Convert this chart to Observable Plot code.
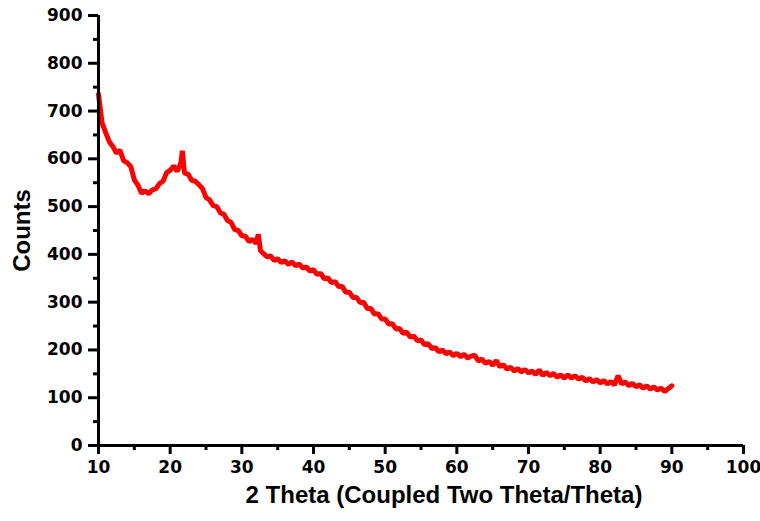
<!DOCTYPE html>
<html>
<head>
<meta charset="utf-8">
<script src="https://cdn.jsdelivr.net/npm/d3@7"></script>
<script src="https://cdn.jsdelivr.net/npm/@observablehq/plot@0.6"></script>
<style>
  html, body { margin: 0; padding: 0; background: #fff; }
  #chart svg { display: block; }
</style>
</head>
<body>
<div id="chart"></div>
<script>
// 2 Theta (degrees)
const theta = [
  10.0, 10.5, 11.0, 11.5, 12.0, 12.5, 13.0, 13.5, 14.0, 14.5,
  15.0, 15.5, 16.0, 16.5, 17.0, 17.5, 18.0, 18.5, 19.0, 19.5,
  20.0, 20.5, 21.0, 21.5, 21.7, 22.0, 22.5, 23.0, 23.5, 24.0,
  24.5, 25.0, 25.5, 26.0, 26.5, 27.0, 27.5, 28.0, 28.5, 29.0,
  29.5, 30.0, 30.5, 31.0, 31.5, 32.0, 32.3, 32.6, 33.0, 33.5,
  34.0, 34.5, 35.0, 35.5, 36.0, 36.5, 37.0, 37.5, 38.0, 38.5,
  39.0, 39.5, 40.0, 40.5, 41.0, 41.5, 42.0, 42.5, 43.0, 43.5,
  44.0, 44.5, 45.0, 45.5, 46.0, 46.5, 47.0, 47.5, 48.0, 48.5,
  49.0, 49.5, 50.0, 50.5, 51.0, 51.5, 52.0, 52.5, 53.0, 53.5,
  54.0, 54.5, 55.0, 55.5, 56.0, 56.5, 57.0, 57.5, 58.0, 58.5,
  59.0, 59.5, 60.0, 60.5, 61.0, 61.5, 62.0, 62.5, 63.0, 63.5,
  64.0, 64.5, 65.0, 65.5, 66.0, 66.5, 67.0, 67.5, 68.0, 68.5,
  69.0, 69.5, 70.0, 70.5, 71.0, 71.5, 72.0, 72.5, 73.0, 73.5,
  74.0, 74.5, 75.0, 75.5, 76.0, 76.5, 77.0, 77.5, 78.0, 78.5,
  79.0, 79.5, 80.0, 80.5, 81.0, 81.5, 82.0, 82.5, 83.0, 83.5,
  84.0, 84.5, 85.0, 85.5, 86.0, 86.5, 87.0, 87.5, 88.0, 88.5,
  89.0, 89.5, 90.0
];
// Counts
const counts = [
  735, 675, 655, 636, 626, 612, 618, 596, 592, 584,
  556, 545, 528, 533, 527, 535, 537, 548, 553, 571,
  576, 585, 574, 592, 617, 570, 568, 555, 553, 546,
  538, 519, 514, 502, 500, 487, 484, 471, 467, 452,
  450, 439, 438, 427, 431, 423, 442, 408, 402, 395,
  397, 387, 391, 383, 387, 379, 384, 376, 380, 371,
  374, 365, 368, 358, 360, 349, 351, 341, 343, 333,
  333, 321, 321, 310, 310, 299, 300, 287, 287, 275,
  276, 265, 265, 254, 255, 244, 245, 235, 237, 227,
  229, 219, 221, 211, 213, 203, 205, 196, 200, 192,
  196, 188, 193, 186, 191, 183, 187, 189, 177, 181,
  172, 176, 168, 178, 165, 169, 160, 164, 156, 161,
  154, 159, 152, 156, 149, 158, 147, 153, 146, 151,
  143, 148, 141, 148, 141, 146, 139, 143, 135, 140,
  133, 138, 131, 136, 129, 134, 127, 146, 129, 133,
  125, 130, 123, 127, 120, 125, 118, 123, 116, 120,
  113, 119, 125
];
const xMajor = [10, 20, 30, 40, 50, 60, 70, 80, 90, 100];
const xMinor = [15, 25, 35, 45, 55, 65, 75, 85, 95];
const yMajor = [0, 100, 200, 300, 400, 500, 600, 700, 800, 900];
const yMinor = [50, 150, 250, 350, 450, 550, 650, 750, 850];
const xTitle = "2 Theta (Coupled Two Theta/Theta)";
const yTitle = "Counts";

const data = theta.map((t, i) => ({theta: t, counts: counts[i]}));

const chart = Plot.plot({
  width: 760,
  height: 521,
  marginLeft: 98,
  marginRight: 17,
  marginTop: 15,
  marginBottom: 76,
  style: {fontFamily: "DejaVu Sans", fontWeight: "bold", fontSize: "17px", color: "#000", background: "#fff"},
  x: {domain: [10, 100]},
  y: {domain: [0, 900]},
  marks: [
    Plot.line(data, {x: "theta", y: "counts", stroke: "#ff0000", strokeWidth: 5, strokeLinejoin: "miter"}),
    Plot.ruleX([10], {stroke: "#000", strokeWidth: 3}),
    Plot.ruleY([0], {stroke: "#000", strokeWidth: 3}),
    Plot.axisX({ticks: xMajor, tickSize: 9, tickPadding: 6, strokeWidth: 3, stroke: "#000", fill: "#000", label: null, tickFormat: d => String(d)}),
    Plot.axisX({ticks: xMinor, tickSize: 5, strokeWidth: 3, stroke: "#000", label: null, tickFormat: () => ""}),
    Plot.axisY({ticks: yMajor, tickSize: 10, tickPadding: 6, strokeWidth: 3, stroke: "#000", fill: "#000", label: null, tickFormat: d => String(d)}),
    Plot.axisY({ticks: yMinor, tickSize: 5, strokeWidth: 3, stroke: "#000", label: null, tickFormat: () => ""}),
    Plot.text([xTitle], {frameAnchor: "bottom", dy: 57, dx: 23, textAnchor: "middle", fontFamily: "Liberation Sans", fontWeight: "bold", fontSize: 24, fill: "#000"}),
    Plot.text([yTitle], {frameAnchor: "left", dx: -76, rotate: -90, textAnchor: "middle", fontFamily: "Liberation Sans", fontWeight: "bold", fontSize: 24, fill: "#000"})
  ]
});
document.getElementById("chart").appendChild(chart);
</script>
</body>
</html>
